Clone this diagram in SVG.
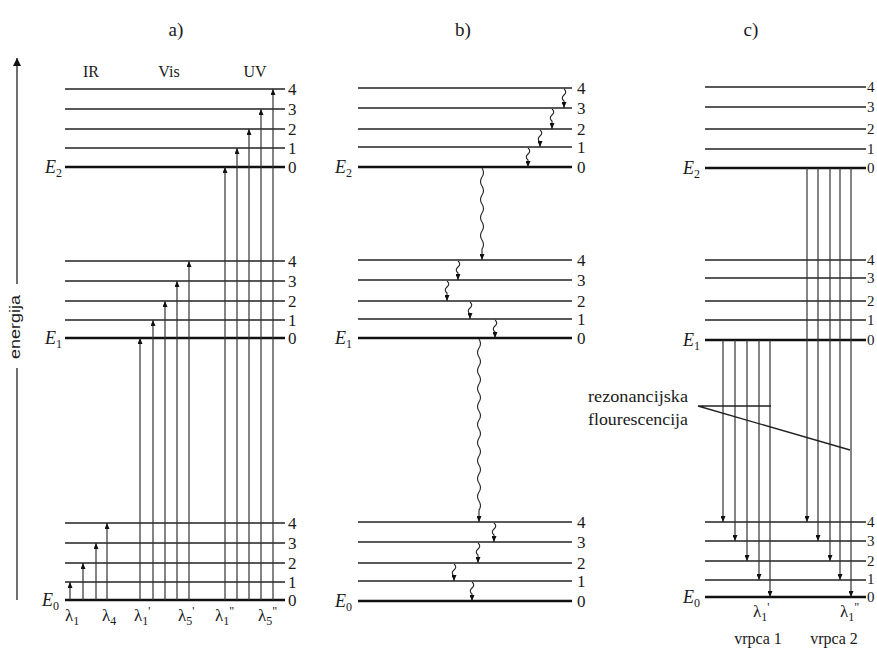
<svg xmlns="http://www.w3.org/2000/svg" width="877" height="650" viewBox="0 0 877 650" font-family="'Liberation Serif', 'DejaVu Serif', serif">
<style>
text{font-family:"Liberation Serif","DejaVu Serif","Times New Roman",serif;fill:#1a1a1a}
.t{font-size:19px}
.n{font-size:17px}
.nc{font-size:15px}
.E{font-size:18px;font-style:italic}
.s{font-size:12px;font-style:normal}
.lam{font-size:17px}
.pr{font-size:12px}
.band{font-size:16px}
.lv{stroke:#222;stroke-width:1.6}
.lv0{stroke:#111;stroke-width:2.6}
.up{stroke:#333;stroke-width:1.2;fill:none;marker-end:url(#ah)}
.wv{stroke:#222;stroke-width:1.1;fill:none;marker-end:url(#ah)}
.ptr{stroke:#222;stroke-width:1.4;fill:none}
</style>
<defs>
<marker id="ah" viewBox="0 0 6 5" refX="6" refY="2.5" markerWidth="6" markerHeight="5" markerUnits="userSpaceOnUse" orient="auto">
<path d="M0,0 L6,2.5 L0,5 z" fill="#111"/>
</marker>
<marker id="big" viewBox="0 0 8 8" refX="8" refY="4" markerWidth="8" markerHeight="9" markerUnits="userSpaceOnUse" orient="auto">
<path d="M0,0 L8,4 L0,8 z" fill="#111"/>
</marker>
</defs>

<!-- titles -->
<text class="t" x="176" y="36" text-anchor="middle">a)</text>
<text class="t" x="463" y="36" text-anchor="middle">b)</text>
<text class="t" x="751" y="36" text-anchor="middle">c)</text>

<!-- energy axis -->
<g id="energy-axis">
<line x1="17" y1="600" x2="17" y2="368" stroke="#333" stroke-width="1.4"/>
<line x1="17" y1="284" x2="17" y2="58" stroke="#333" stroke-width="1.4" marker-end="url(#big)"/>
<text transform="translate(20,327) rotate(-90)" text-anchor="middle" style="font-family:'Liberation Sans',Arial,sans-serif;font-size:15px" textLength="64" lengthAdjust="spacingAndGlyphs">energija</text>
</g>

<!-- panel a -->
<g id="panel-a">
<text class="band" x="91" y="77" text-anchor="middle">IR</text>
<text class="band" x="169" y="77" text-anchor="middle">Vis</text>
<text class="band" x="255" y="77" text-anchor="middle">UV</text>
<g id="a-E2">
<line class="lv" x1="65" y1="89" x2="285" y2="89"/>
<line class="lv" x1="65" y1="109" x2="285" y2="109"/>
<line class="lv" x1="65" y1="129" x2="285" y2="129"/>
<line class="lv" x1="65" y1="148" x2="285" y2="148"/>
<line class="lv0" x1="65" y1="167" x2="285" y2="167"/>
<text class="n" x="288" y="95">4</text><text class="n" x="288" y="115">3</text><text class="n" x="288" y="135">2</text><text class="n" x="288" y="154">1</text><text class="n" x="288" y="173">0</text>
<text class="E" x="45" y="173">E<tspan class="s" dy="4">2</tspan></text>
</g>
<g id="a-E1">
<line class="lv" x1="65" y1="261" x2="285" y2="261"/>
<line class="lv" x1="65" y1="281" x2="285" y2="281"/>
<line class="lv" x1="65" y1="301" x2="285" y2="301"/>
<line class="lv" x1="65" y1="320" x2="285" y2="320"/>
<line class="lv0" x1="65" y1="338" x2="285" y2="338"/>
<text class="n" x="288" y="267">4</text><text class="n" x="288" y="287">3</text><text class="n" x="288" y="307">2</text><text class="n" x="288" y="326">1</text><text class="n" x="288" y="344">0</text>
<text class="E" x="45" y="344">E<tspan class="s" dy="4">1</tspan></text>
</g>
<g id="a-E0">
<line class="lv" x1="65" y1="523" x2="285" y2="523"/>
<line class="lv" x1="65" y1="543" x2="285" y2="543"/>
<line class="lv" x1="65" y1="563" x2="285" y2="563"/>
<line class="lv" x1="65" y1="582" x2="285" y2="582"/>
<line class="lv0" x1="65" y1="600" x2="285" y2="600"/>
<text class="n" x="288" y="529">4</text><text class="n" x="288" y="549">3</text><text class="n" x="288" y="569">2</text><text class="n" x="288" y="588">1</text><text class="n" x="288" y="606">0</text>
<text class="E" x="42" y="606">E<tspan class="s" dy="4">0</tspan></text>
</g>
<g id="a-connectors">
<line class="up" x1="70" y1="600" x2="70" y2="582"/>
<line class="up" x1="83" y1="600" x2="83" y2="563"/>
<line class="up" x1="96" y1="600" x2="96" y2="543"/>
<line class="up" x1="107" y1="600" x2="107" y2="523"/>
<line class="up" x1="140" y1="600" x2="140" y2="338"/>
<line class="up" x1="153" y1="600" x2="153" y2="320"/>
<line class="up" x1="165" y1="600" x2="165" y2="301"/>
<line class="up" x1="177" y1="600" x2="177" y2="281"/>
<line class="up" x1="189" y1="600" x2="189" y2="261"/>
<line class="up" x1="225" y1="600" x2="225" y2="167"/>
<line class="up" x1="237" y1="600" x2="237" y2="148"/>
<line class="up" x1="249" y1="600" x2="249" y2="129"/>
<line class="up" x1="261" y1="600" x2="261" y2="109"/>
<line class="up" x1="273" y1="600" x2="273" y2="89"/>
</g>
<g id="a-lambdas">
<text class="lam" x="65" y="621">λ<tspan class="s" dy="4">1</tspan></text>
<text class="lam" x="102" y="621">λ<tspan class="s" dy="4">4</tspan></text>
<text class="lam" x="134" y="621">λ<tspan class="s" dy="4">1</tspan><tspan class="pr" dy="-10">'</tspan></text>
<text class="lam" x="178" y="621">λ<tspan class="s" dy="4">5</tspan><tspan class="pr" dy="-10">'</tspan></text>
<text class="lam" x="215" y="621">λ<tspan class="s" dy="4">1</tspan><tspan class="pr" dy="-10">"</tspan></text>
<text class="lam" x="258" y="621">λ<tspan class="s" dy="4">5</tspan><tspan class="pr" dy="-10">"</tspan></text>
</g>
</g>

<!-- panel b -->
<g id="panel-b">
<g id="b-E2">
<line class="lv" x1="358" y1="88" x2="572" y2="88"/>
<line class="lv" x1="358" y1="108" x2="572" y2="108"/>
<line class="lv" x1="358" y1="129" x2="572" y2="129"/>
<line class="lv" x1="358" y1="147" x2="572" y2="147"/>
<line class="lv0" x1="358" y1="167" x2="572" y2="167"/>
<text class="n" x="577" y="94">4</text><text class="n" x="577" y="114">3</text><text class="n" x="577" y="135">2</text><text class="n" x="577" y="153">1</text><text class="n" x="577" y="173">0</text>
<text class="E" x="335" y="173">E<tspan class="s" dy="4">2</tspan></text>
</g>
<g id="b-E1">
<line class="lv" x1="358" y1="260" x2="572" y2="260"/>
<line class="lv" x1="358" y1="280" x2="572" y2="280"/>
<line class="lv" x1="358" y1="301" x2="572" y2="301"/>
<line class="lv" x1="358" y1="319" x2="572" y2="319"/>
<line class="lv0" x1="358" y1="338" x2="572" y2="338"/>
<text class="n" x="577" y="266">4</text><text class="n" x="577" y="286">3</text><text class="n" x="577" y="307">2</text><text class="n" x="577" y="325">1</text><text class="n" x="577" y="344">0</text>
<text class="E" x="335" y="344">E<tspan class="s" dy="4">1</tspan></text>
</g>
<g id="b-E0">
<line class="lv" x1="358" y1="522" x2="572" y2="522"/>
<line class="lv" x1="358" y1="542" x2="572" y2="542"/>
<line class="lv" x1="358" y1="563" x2="572" y2="563"/>
<line class="lv" x1="358" y1="581" x2="572" y2="581"/>
<line class="lv0" x1="358" y1="601" x2="572" y2="601"/>
<text class="n" x="577" y="528">4</text><text class="n" x="577" y="548">3</text><text class="n" x="577" y="569">2</text><text class="n" x="577" y="587">1</text><text class="n" x="577" y="607">0</text>
<text class="E" x="335" y="607">E<tspan class="s" dy="4">0</tspan></text>
</g>
<g id="b-connectors">
<path class="wv" d="M564,89 q3.5,3 0,6 t0,6 V108"/>
<path class="wv" d="M552,109 q3.5,3 0,6 t0,6 V129"/>
<path class="wv" d="M540,130 q3.5,3 0,6 t0,6 V147"/>
<path class="wv" d="M528,148 q3.5,3 0,6 t0,6 V167"/>
<path class="wv" d="M482,168 q3,4.5 0,9 t0,9 t0,9 t0,9 t0,9 t0,9 t0,9 t0,9 t0,9 V260"/>
<path class="wv" d="M458,261 q3.5,3 0,6 t0,6 V280"/>
<path class="wv" d="M447,281 q3.5,3 0,6 t0,6 V301"/>
<path class="wv" d="M470,302 q3.5,3 0,6 t0,6 V319"/>
<path class="wv" d="M495,320 q3.5,3 0,6 t0,6 V338"/>
<path class="wv" d="M479,339 q3,4.5 0,9 t0,9 t0,9 t0,9 t0,9 t0,9 t0,9 t0,9 t0,9 t0,9 t0,9 t0,9 t0,9 t0,9 t0,9 t0,9 t0,9 t0,9 t0,9 V522"/>
<path class="wv" d="M494,523 q3.5,3 0,6 t0,6 V542"/>
<path class="wv" d="M478,543 q3.5,3 0,6 t0,6 V563"/>
<path class="wv" d="M454,564 q3.5,3 0,6 t0,6 V581"/>
<path class="wv" d="M472,582 q3.5,3 0,6 t0,6 V601"/>
</g>
</g>

<!-- panel c -->
<g id="panel-c">
<g id="c-E2">
<line class="lv" x1="705" y1="87" x2="866" y2="87"/>
<line class="lv" x1="705" y1="107" x2="866" y2="107"/>
<line class="lv" x1="705" y1="129" x2="866" y2="129"/>
<line class="lv" x1="705" y1="149" x2="866" y2="149"/>
<line class="lv0" x1="705" y1="168" x2="866" y2="168"/>
<text class="nc" x="867" y="92">4</text><text class="nc" x="867" y="112">3</text><text class="nc" x="867" y="134">2</text><text class="nc" x="867" y="154">1</text><text class="nc" x="867" y="173">0</text>
<text class="E" x="683" y="174">E<tspan class="s" dy="4">2</tspan></text>
</g>
<g id="c-E1">
<line class="lv" x1="705" y1="260" x2="866" y2="260"/>
<line class="lv" x1="705" y1="278" x2="866" y2="278"/>
<line class="lv" x1="705" y1="301" x2="866" y2="301"/>
<line class="lv" x1="705" y1="320" x2="866" y2="320"/>
<line class="lv0" x1="705" y1="340" x2="866" y2="340"/>
<text class="nc" x="867" y="265">4</text><text class="nc" x="867" y="283">3</text><text class="nc" x="867" y="306">2</text><text class="nc" x="867" y="325">1</text><text class="nc" x="867" y="345">0</text>
<text class="E" x="683" y="346">E<tspan class="s" dy="4">1</tspan></text>
</g>
<g id="c-E0">
<line class="lv" x1="705" y1="522" x2="866" y2="522"/>
<line class="lv" x1="705" y1="541" x2="866" y2="541"/>
<line class="lv" x1="705" y1="561" x2="866" y2="561"/>
<line class="lv" x1="705" y1="580" x2="866" y2="580"/>
<line class="lv0" x1="705" y1="597" x2="866" y2="597"/>
<text class="nc" x="867" y="527">4</text><text class="nc" x="867" y="546">3</text><text class="nc" x="867" y="566">2</text><text class="nc" x="867" y="584">1</text><text class="nc" x="867" y="602">0</text>
<text class="E" x="683" y="603">E<tspan class="s" dy="4">0</tspan></text>
</g>
<g id="c-connectors">
<line class="up" x1="723" y1="340" x2="723" y2="522"/>
<line class="up" x1="735" y1="340" x2="735" y2="541"/>
<line class="up" x1="747" y1="340" x2="747" y2="561"/>
<line class="up" x1="759" y1="340" x2="759" y2="580"/>
<line class="up" x1="770" y1="340" x2="770" y2="597"/>
<line class="up" x1="807" y1="168" x2="807" y2="522"/>
<line class="up" x1="818" y1="168" x2="818" y2="541"/>
<line class="up" x1="830" y1="168" x2="830" y2="561"/>
<line class="up" x1="840" y1="168" x2="840" y2="580"/>
<line class="up" x1="851" y1="168" x2="851" y2="597"/>
<polyline class="ptr" points="771,406 698,406 850,450"/>
</g>
<g id="c-labels">
<text x="588" y="402" style="font-size:16px" textLength="100" lengthAdjust="spacingAndGlyphs">rezonancijska</text>
<text x="588" y="425" style="font-size:16px" textLength="100" lengthAdjust="spacingAndGlyphs">flourescencija</text>
<text class="lam" x="753" y="617">λ<tspan class="s" dy="4">1</tspan><tspan class="pr" dy="-10">'</tspan></text>
<text class="lam" x="840" y="617">λ<tspan class="s" dy="4">1</tspan><tspan class="pr" dy="-10">"</tspan></text>
<text x="758" y="644" text-anchor="middle" style="font-size:16px">vrpca 1</text>
<text x="834" y="644" text-anchor="middle" style="font-size:16px">vrpca 2</text>
</g>
</g>
</svg>
